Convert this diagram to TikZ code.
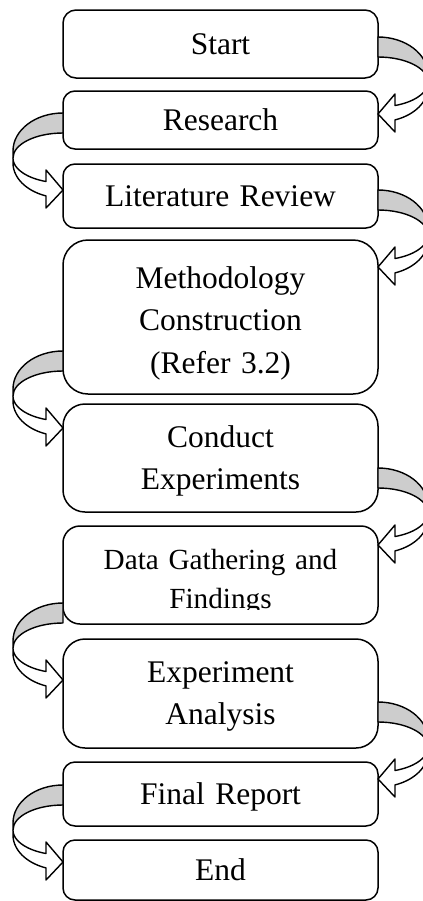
\documentclass[tikz,border=0pt]{standalone}
\usepackage{fontspec}
\setmainfont{Liberation Serif}
\usetikzlibrary{calc}
\definecolor{bandgray}{RGB}{205,205,205}
\tikzset{
  stepbox/.style={draw=black, line width=0.75pt, fill=white, minimum width=157.5pt,
    inner sep=0pt, outer sep=0pt, text width=150pt, align=center,
    font=\fontsize{15.75}{21.25}\selectfont},
  steptext/.style={inner sep=0pt, text width=150pt, align=center,
    font=\fontsize{15.75}{21.25}\selectfont},
  band/.style={draw=black, line width=0.7pt, line join=round},
}
\newcommand\bandarrow[2]{%
  \begin{scope}[shift={#2}, xscale=#1]
    \draw[band, fill=bandgray] (0,0) .. controls (27.6,0) and (50,17) .. (50,38)
      -- (50,45) .. controls (50,31.2) and (27.6,20) .. (0,20) -- cycle;
    \draw[band, fill=white] (50,45) -- (50,50)
      -- plot[domain=0:70.1, samples=25] ({50*cos(\x)},{50+35*sin(\x)})
      -- (17,95) -- (0,77) -- (17,57)
      -- plot[domain=70.1:0, samples=25] ({50*cos(\x)},{45+25*sin(\x)}) -- cycle;
  \end{scope}}
\begin{document}
\begin{tikzpicture}[x=0.5pt, y=-0.5pt]
  \useasboundingbox (0,0) rectangle (423,901);
  \clip (0,0) rectangle (423,901);

  \node[stepbox, minimum height=34pt, rounded corners=6.5pt] (start) at (220.5,44) {Start};
  \node[stepbox, minimum height=29pt, rounded corners=6pt] (research) at (220.5,120) {Research};
  \node[stepbox, minimum height=32pt, rounded corners=6pt] (litrev) at (220.5,196) {Literature Review};

  \node[stepbox, minimum height=77pt, rounded corners=12.5pt] (meth) at (220.5,317) {};
  \node[steptext] (methtext) at ($(meth.center)+(0,6)$) {Methodology\\Construction\\(Refer 3.2)};

  \node[stepbox, minimum height=54pt, rounded corners=11pt] (conduct) at (220.5,458) {};
  \node[steptext] (conducttext) at ($(conduct.center)+(0,3)$) {Conduct\\Experiments};

  \node[stepbox, minimum height=49pt, rounded corners=8.5pt] (data) at (220.5,575) {};
  \begin{scope}
    \clip (63,526) rectangle (378,609);
    \node[steptext, font=\fontsize{14.6}{19.5}\selectfont] (datatext) at ($(data.center)+(0,7)$) {Data Gathering and\\Findings};
  \end{scope}

  \node[stepbox, minimum height=54.5pt, rounded corners=11pt] (expan) at (220.5,693.5) {};
  \node[steptext] (expantext) at ($(expan.center)+(0,3)$) {Experiment\\Analysis};

  \node[stepbox, minimum height=32pt, rounded corners=6pt, text depth=0pt] (final) at (220.5,794) {Final Report};
  \node[stepbox, minimum height=30pt, rounded corners=6pt] (finish) at (220.5,870) {End};

  \bandarrow{1}{($(start.east)+(0,-7)$)}
  \bandarrow{-1}{($(research.west)+(0,-7)$)}
  \bandarrow{1}{($(litrev.east)+(0,-6)$)}
  \bandarrow{-1}{($(meth.west)+(0,34)$)}
  \bandarrow{1}{($(conduct.east)+(0,10)$)}
  \bandarrow{-1}{($(data.west)+(0,28)$)}
  \bandarrow{1}{($(expan.east)+(0,8.5)$)}
  \bandarrow{-1}{($(final.west)+(0,-9)$)}
\end{tikzpicture}
\end{document}
